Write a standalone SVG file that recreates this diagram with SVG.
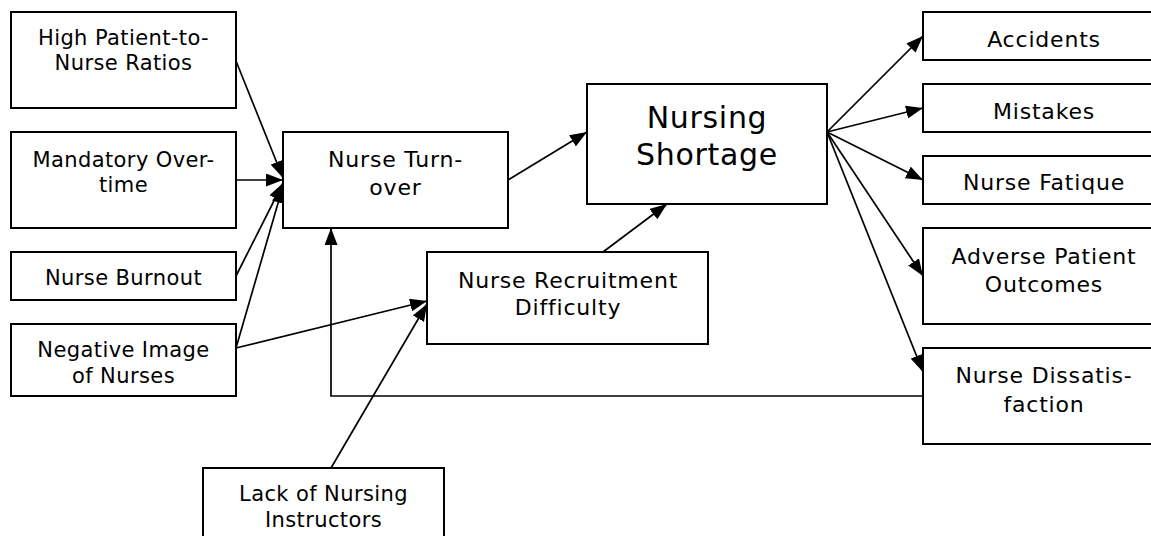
<svg xmlns="http://www.w3.org/2000/svg" width="1151" height="536" viewBox="0 0 1151 536">
<style>
.box{fill:#fff;stroke:#000;stroke-width:2}
.t{font-family:"DejaVu Sans","Verdana",sans-serif;font-size:21px;fill:#000;text-anchor:middle;letter-spacing:0.4px}
.m{font-size:22px;letter-spacing:0.8px}
.big{font-size:30px;letter-spacing:0.7px}
.c{fill:none;stroke:#000;stroke-width:1.7}
</style>
<defs>
<marker id="ah" viewBox="0 0 17 13" refX="17" refY="6.5" markerWidth="17" markerHeight="13" markerUnits="userSpaceOnUse" orient="auto">
<path d="M0,0 L17,6.5 L0,13 z" fill="#000"/>
</marker>
</defs>
<rect width="1151" height="536" fill="#fff"/>
<g id="connectors">
<path class="c" marker-end="url(#ah)" d="M236,61 L283,178"/>
<path class="c" marker-end="url(#ah)" d="M236,180 L283,180"/>
<path class="c" marker-end="url(#ah)" d="M236,276 L283,183"/>
<path class="c" marker-end="url(#ah)" d="M236,348 L283,186"/>
<path class="c" marker-end="url(#ah)" d="M236,348 L427,301"/>
<path class="c" marker-end="url(#ah)" d="M331,468 L427,304"/>
<path class="c" marker-end="url(#ah)" d="M923,396 H331 V228"/>
<path class="c" marker-end="url(#ah)" d="M508,180 L587,132"/>
<path class="c" marker-end="url(#ah)" d="M603,252 L667,204"/>
<path class="c" marker-end="url(#ah)" d="M827,132 L923,36"/>
<path class="c" marker-end="url(#ah)" d="M827,132 L923,108"/>
<path class="c" marker-end="url(#ah)" d="M827,132 L923,180"/>
<path class="c" marker-end="url(#ah)" d="M827,132 L923,276"/>
<path class="c" marker-end="url(#ah)" d="M827,132 L923,372"/>
</g>
<g id="high-ratios"><rect class="box" x="11" y="12" width="225" height="96"/><text class="t" x="123.5" y="45">High Patient-to-</text><text class="t" x="123.5" y="70">Nurse Ratios</text></g>
<g id="mandatory-overtime"><rect class="box" x="11" y="132" width="225" height="96"/><text class="t" x="123.5" y="167">Mandatory Over-</text><text class="t" x="123.5" y="192">time</text></g>
<g id="nurse-burnout"><rect class="box" x="11" y="252" width="225" height="48"/><text class="t" x="123.5" y="285">Nurse Burnout</text></g>
<g id="negative-image"><rect class="box" x="11" y="324" width="225" height="72"/><text class="t" x="123.5" y="357">Negative Image</text><text class="t" x="123.5" y="383">of Nurses</text></g>
<g id="lack-instructors"><rect class="box" x="203" y="468" width="241" height="80"/><text class="t" x="323.5" y="501">Lack of Nursing</text><text class="t" x="323.5" y="527">Instructors</text></g>
<g id="nurse-turnover"><rect class="box" x="283" y="132" width="225" height="96"/><text class="t m" x="395.5" y="167">Nurse Turn-</text><text class="t m" x="395.5" y="195">over</text></g>
<g id="recruitment"><rect class="box" x="427" y="252" width="281" height="92"/><text class="t m" x="568" y="288">Nurse Recruitment</text><text class="t m" x="568" y="315">Difficulty</text></g>
<g id="nursing-shortage"><rect class="box" x="587" y="84" width="240" height="120"/><text class="t big" x="707" y="128">Nursing</text><text class="t big" x="707" y="165">Shortage</text></g>
<g id="accidents"><rect class="box" x="923" y="12" width="245" height="48"/><text class="t m" x="1044" y="47">Accidents</text></g>
<g id="mistakes"><rect class="box" x="923" y="84" width="245" height="48"/><text class="t m" x="1044" y="119">Mistakes</text></g>
<g id="nurse-fatigue"><rect class="box" x="923" y="156" width="245" height="48"/><text class="t m" x="1044" y="190">Nurse Fatique</text></g>
<g id="adverse-outcomes"><rect class="box" x="923" y="228" width="245" height="96"/><text class="t m" x="1044" y="264">Adverse Patient</text><text class="t m" x="1044" y="292">Outcomes</text></g>
<g id="nurse-dissatisfaction"><rect class="box" x="923" y="348" width="245" height="96"/><text class="t m" x="1044" y="383">Nurse Dissatis-</text><text class="t m" x="1044" y="412">faction</text></g>
</svg>
